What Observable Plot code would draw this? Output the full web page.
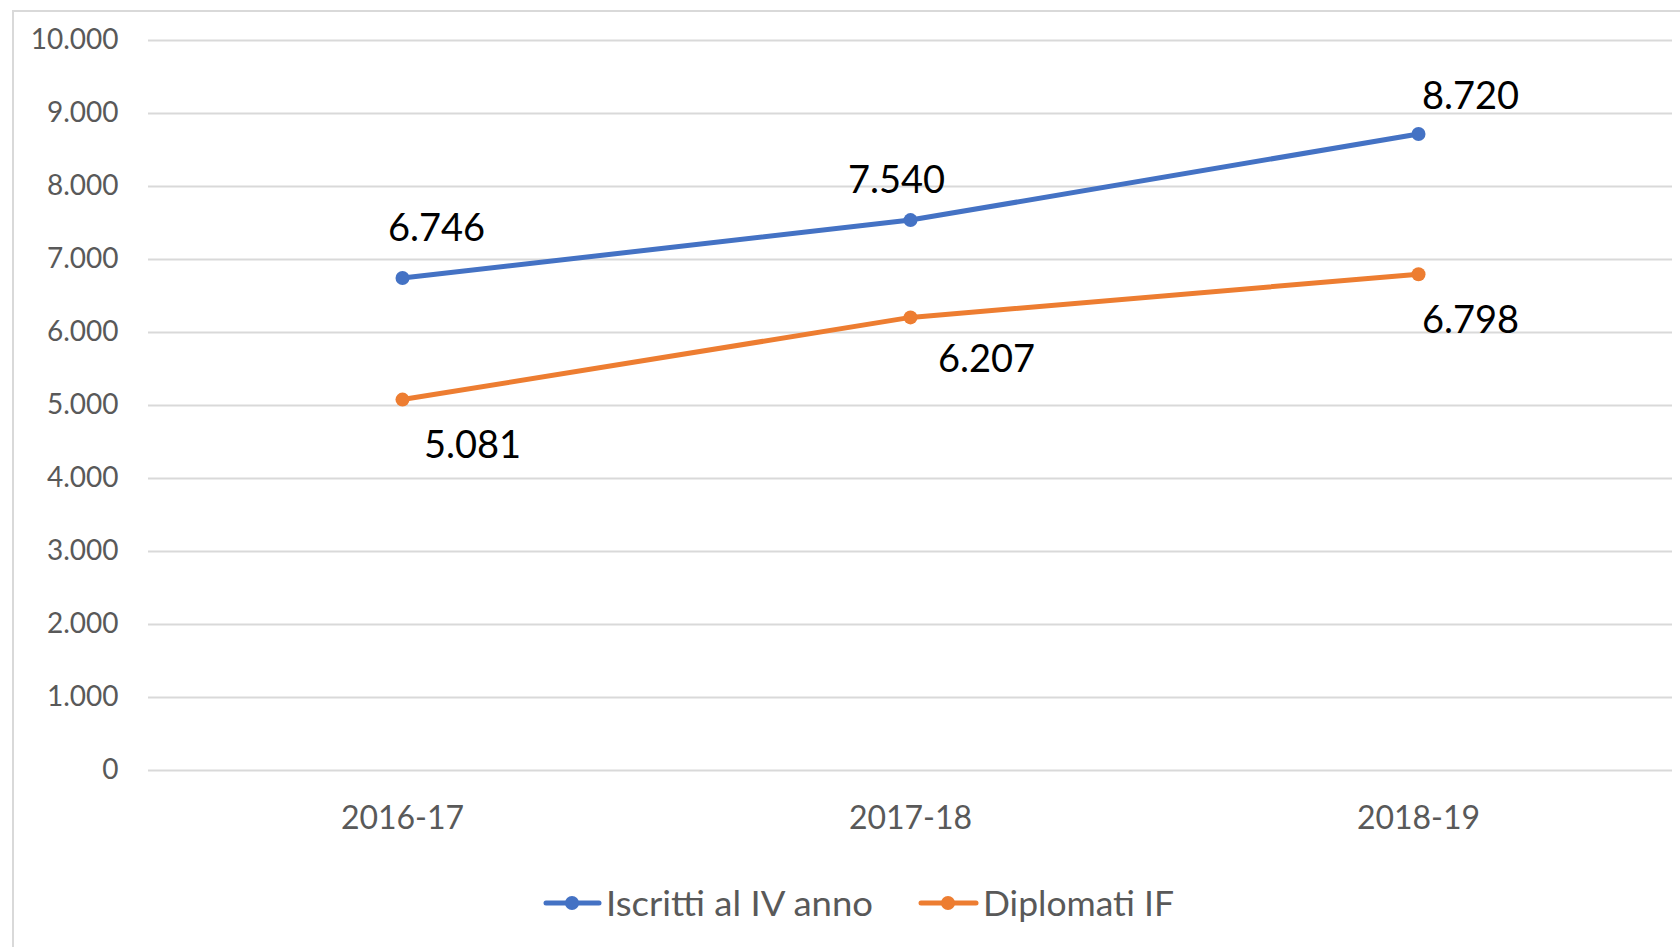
<!DOCTYPE html>
<html><head><meta charset="utf-8">
<script src="https://cdn.jsdelivr.net/npm/d3@7"></script>
<script src="https://cdn.jsdelivr.net/npm/@observablehq/plot@0.6"></script>
<style>
html,body{margin:0;padding:0;background:#fff;overflow:hidden;width:1680px;height:947px;}
#frame{position:absolute;left:12px;top:10px;width:2000px;height:2000px;border-left:2px solid #D9D9D9;border-top:2px solid #D9D9D9;pointer-events:none;}
#chart{position:absolute;left:0;top:0;}
#legend{position:absolute;left:0;top:870px;}
</style></head><body>
<div id="chart"></div><div id="legend"></div><div id="frame"></div>
<script>
// ---- data ----
const categories = ["2016-17", "2017-18", "2018-19"];
const iscritti = [6746, 7540, 8720];
const diplomati = [5081, 6207, 6798];
const seriesNames = ["Iscritti al IV anno", "Diplomati IF"];
const yTicks = [0, 1000, 2000, 3000, 4000, 5000, 6000, 7000, 8000, 9000, 10000];

// ---- styling ----
const colors = ["#4472C4", "#ED7D31"];
const labelDx = [[34, -14, 52], [70, 76, 52]];
const labelDy = [[-37, -27, -25], [58, 55, 59]];

const locale = d3.formatLocale({decimal: ",", thousands: ".", grouping: [3], currency: ["€", ""]});
const fmt = locale.format(",d");

const seriesValues = [iscritti, diplomati];
const rows = [];
seriesValues.forEach((vals, s) => vals.forEach((v, i) => rows.push({series: seriesNames[s], cat: categories[i], value: v, s, i})));

const labelMarks = rows.map(r => Plot.text([r], {
  x: "cat", y: "value", text: d => fmt(d.value),
  dx: labelDx[r.s][r.i], dy: labelDy[r.s][r.i],
  lineAnchor: "bottom", textAnchor: "middle",
  fill: "#000", fontSize: 38
}));

const chart = Plot.plot({
  width: 1680, height: 870,
  marginLeft: 148, marginRight: 8, marginTop: 40, marginBottom: 100,
  style: {fontFamily: "Lato, sans-serif", fontSize: "28px", color: "#595959", background: "transparent"},
  x: {type: "point", domain: categories, padding: 0.5, label: null},
  y: {domain: [0, 10000], label: null},
  color: {domain: seriesNames, range: colors},
  marks: [
    Plot.gridY(yTicks, {stroke: "#D9D9D9", strokeOpacity: 1, strokeWidth: 2}),
    Plot.axisY({ticks: yTicks, tickFormat: fmt, tickSize: 0, tickPadding: 30, label: null}),
    Plot.axisX({tickSize: 0, tickPadding: 36, fontSize: 32, label: null}),
    Plot.line(rows, {x: "cat", y: "value", z: "series", stroke: "series", strokeWidth: 5}),
    Plot.dot(rows, {x: "cat", y: "value", fill: "series", r: 7}),
    ...labelMarks
  ]
});
document.getElementById("chart").append(chart);

// ---- legend (below the SVG) ----
const legendItems = [
  {name: seriesNames[0], color: colors[0], x0: 546, x1: 599, cx: 572, tx: 606, tl: 267},
  {name: seriesNames[1], color: colors[1], x0: 921, x1: 976, cx: 948, tx: 983, tl: 191}
];
const lg = d3.create("svg").attr("width", 1680).attr("height", 77);
legendItems.forEach(it => {
  lg.append("line").attr("x1", it.x0).attr("x2", it.x1).attr("y1", 33).attr("y2", 33)
    .attr("stroke", it.color).attr("stroke-width", 5).attr("stroke-linecap", "round");
  lg.append("circle").attr("cx", it.cx).attr("cy", 33).attr("r", 7).attr("fill", it.color);
  lg.append("text").attr("x", it.tx).attr("y", 46).attr("fill", "#595959")
    .attr("font-family", "Lato, sans-serif").attr("font-size", 35)
    .attr("textLength", it.tl).attr("lengthAdjust", "spacingAndGlyphs").text(it.name);
});
document.getElementById("legend").append(lg.node());
</script>
</body></html>
